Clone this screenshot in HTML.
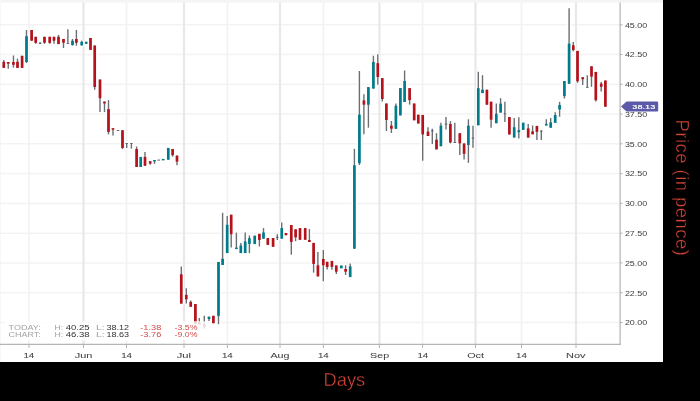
<!DOCTYPE html>
<html><head><meta charset="utf-8"><style>
html,body{margin:0;padding:0;width:700px;height:401px;overflow:hidden;background:#000;}
svg{will-change:transform}
</style></head><body>
<svg width="700" height="401" viewBox="0 0 700 401" style="position:absolute;left:0;top:0">
<rect x="0" y="0" width="700" height="401" fill="#000"/>
<rect x="0" y="0" width="663" height="362" fill="#fff"/>
<rect x="0" y="0" width="663" height="2.5" fill="#f4f4f4"/><rect x="0" y="0" width="1" height="362" fill="#f8f8f8"/>
<line x1="0" y1="24.8" x2="620" y2="24.8" stroke="#f3f3f3" stroke-width="1.5"/>
<line x1="0" y1="54.5" x2="620" y2="54.5" stroke="#f3f3f3" stroke-width="1.5"/>
<line x1="0" y1="84.3" x2="620" y2="84.3" stroke="#f3f3f3" stroke-width="1.5"/>
<line x1="0" y1="114.1" x2="620" y2="114.1" stroke="#f3f3f3" stroke-width="1.5"/>
<line x1="0" y1="143.8" x2="620" y2="143.8" stroke="#f3f3f3" stroke-width="1.5"/>
<line x1="0" y1="173.6" x2="620" y2="173.6" stroke="#f3f3f3" stroke-width="1.5"/>
<line x1="0" y1="203.4" x2="620" y2="203.4" stroke="#f3f3f3" stroke-width="1.5"/>
<line x1="0" y1="233.2" x2="620" y2="233.2" stroke="#f3f3f3" stroke-width="1.5"/>
<line x1="0" y1="262.9" x2="620" y2="262.9" stroke="#f3f3f3" stroke-width="1.5"/>
<line x1="0" y1="292.7" x2="620" y2="292.7" stroke="#f3f3f3" stroke-width="1.5"/>
<line x1="0" y1="322.5" x2="620" y2="322.5" stroke="#f3f3f3" stroke-width="1.5"/>
<line x1="29.0" y1="2.5" x2="29.0" y2="344" stroke="#f3f3f3" stroke-width="1.8"/>
<line x1="83.5" y1="2.5" x2="83.5" y2="344" stroke="#e8e8e8" stroke-width="2.2"/>
<line x1="126.5" y1="2.5" x2="126.5" y2="344" stroke="#f3f3f3" stroke-width="1.8"/>
<line x1="184.0" y1="2.5" x2="184.0" y2="344" stroke="#e8e8e8" stroke-width="2.2"/>
<line x1="227.4" y1="2.5" x2="227.4" y2="344" stroke="#f3f3f3" stroke-width="1.8"/>
<line x1="280.0" y1="2.5" x2="280.0" y2="344" stroke="#e8e8e8" stroke-width="2.2"/>
<line x1="323.4" y1="2.5" x2="323.4" y2="344" stroke="#f3f3f3" stroke-width="1.8"/>
<line x1="379.4" y1="2.5" x2="379.4" y2="344" stroke="#e8e8e8" stroke-width="2.2"/>
<line x1="422.6" y1="2.5" x2="422.6" y2="344" stroke="#f3f3f3" stroke-width="1.8"/>
<line x1="475.5" y1="2.5" x2="475.5" y2="344" stroke="#e8e8e8" stroke-width="2.2"/>
<line x1="521.5" y1="2.5" x2="521.5" y2="344" stroke="#f3f3f3" stroke-width="1.8"/>
<line x1="576.0" y1="2.5" x2="576.0" y2="344" stroke="#e8e8e8" stroke-width="2.2"/>
<line x1="0" y1="344.3" x2="620.6" y2="344.3" stroke="#b4b4b4" stroke-width="1.2"/>
<line x1="620.1" y1="2.5" x2="620.1" y2="344.9" stroke="#b4b4b4" stroke-width="1.2"/>
<line x1="29.0" y1="344" x2="29.0" y2="348" stroke="#b4b4b4" stroke-width="1"/>
<line x1="83.5" y1="344" x2="83.5" y2="348" stroke="#b4b4b4" stroke-width="1"/>
<line x1="126.5" y1="344" x2="126.5" y2="348" stroke="#b4b4b4" stroke-width="1"/>
<line x1="184.0" y1="344" x2="184.0" y2="348" stroke="#b4b4b4" stroke-width="1"/>
<line x1="227.4" y1="344" x2="227.4" y2="348" stroke="#b4b4b4" stroke-width="1"/>
<line x1="280.0" y1="344" x2="280.0" y2="348" stroke="#b4b4b4" stroke-width="1"/>
<line x1="323.4" y1="344" x2="323.4" y2="348" stroke="#b4b4b4" stroke-width="1"/>
<line x1="379.4" y1="344" x2="379.4" y2="348" stroke="#b4b4b4" stroke-width="1"/>
<line x1="422.6" y1="344" x2="422.6" y2="348" stroke="#b4b4b4" stroke-width="1"/>
<line x1="475.5" y1="344" x2="475.5" y2="348" stroke="#b4b4b4" stroke-width="1"/>
<line x1="521.5" y1="344" x2="521.5" y2="348" stroke="#b4b4b4" stroke-width="1"/>
<line x1="576.0" y1="344" x2="576.0" y2="348" stroke="#b4b4b4" stroke-width="1"/>
<line x1="620" y1="24.8" x2="622.6" y2="24.8" stroke="#b4b4b4" stroke-width="1"/>
<line x1="620" y1="54.5" x2="622.6" y2="54.5" stroke="#b4b4b4" stroke-width="1"/>
<line x1="620" y1="84.3" x2="622.6" y2="84.3" stroke="#b4b4b4" stroke-width="1"/>
<line x1="620" y1="114.1" x2="622.6" y2="114.1" stroke="#b4b4b4" stroke-width="1"/>
<line x1="620" y1="143.8" x2="622.6" y2="143.8" stroke="#b4b4b4" stroke-width="1"/>
<line x1="620" y1="173.6" x2="622.6" y2="173.6" stroke="#b4b4b4" stroke-width="1"/>
<line x1="620" y1="203.4" x2="622.6" y2="203.4" stroke="#b4b4b4" stroke-width="1"/>
<line x1="620" y1="233.2" x2="622.6" y2="233.2" stroke="#b4b4b4" stroke-width="1"/>
<line x1="620" y1="262.9" x2="622.6" y2="262.9" stroke="#b4b4b4" stroke-width="1"/>
<line x1="620" y1="292.7" x2="622.6" y2="292.7" stroke="#b4b4b4" stroke-width="1"/>
<line x1="620" y1="322.5" x2="622.6" y2="322.5" stroke="#b4b4b4" stroke-width="1"/>
<line x1="3.76" y1="60.0" x2="3.76" y2="67.9" stroke="#fff" stroke-width="4.0"/>
<rect x="1.11" y="60.8" width="5.300000000000001" height="8.1" fill="#fff"/>
<line x1="8.24" y1="62.0" x2="8.24" y2="68.7" stroke="#fff" stroke-width="4.0"/>
<rect x="5.59" y="61.0" width="5.300000000000001" height="3.7" fill="#fff"/>
<line x1="13.45" y1="55.5" x2="13.45" y2="67.6" stroke="#fff" stroke-width="4.0"/>
<rect x="10.80" y="61.0" width="5.300000000000001" height="4.8" fill="#fff"/>
<line x1="17.50" y1="58.6" x2="17.50" y2="67.9" stroke="#fff" stroke-width="4.0"/>
<rect x="14.85" y="60.8" width="5.300000000000001" height="8.1" fill="#fff"/>
<line x1="22.10" y1="55.8" x2="22.10" y2="67.9" stroke="#fff" stroke-width="4.0"/>
<rect x="19.45" y="54.8" width="5.300000000000001" height="14.1" fill="#fff"/>
<line x1="26.50" y1="30.0" x2="26.50" y2="63.1" stroke="#fff" stroke-width="4.0"/>
<rect x="23.85" y="35.2" width="5.300000000000001" height="27.8" fill="#fff"/>
<line x1="31.60" y1="30.0" x2="31.60" y2="40.7" stroke="#fff" stroke-width="4.0"/>
<rect x="28.95" y="29.0" width="5.300000000000001" height="12.7" fill="#fff"/>
<line x1="35.70" y1="36.8" x2="35.70" y2="43.8" stroke="#fff" stroke-width="4.0"/>
<rect x="33.05" y="35.8" width="5.300000000000001" height="8.1" fill="#fff"/>
<line x1="40.10" y1="42.0" x2="40.10" y2="44.0" stroke="#fff" stroke-width="4.0"/>
<rect x="37.45" y="42.0" width="5.300000000000001" height="3.0" fill="#fff"/>
<line x1="44.50" y1="36.8" x2="44.50" y2="43.8" stroke="#fff" stroke-width="4.0"/>
<rect x="41.85" y="35.8" width="5.300000000000001" height="7.9" fill="#fff"/>
<line x1="49.70" y1="36.8" x2="49.70" y2="43.8" stroke="#fff" stroke-width="4.0"/>
<rect x="47.05" y="35.8" width="5.300000000000001" height="8.1" fill="#fff"/>
<line x1="54.00" y1="36.8" x2="54.00" y2="43.8" stroke="#fff" stroke-width="4.0"/>
<rect x="51.35" y="35.8" width="5.300000000000001" height="5.9" fill="#fff"/>
<line x1="58.50" y1="34.9" x2="58.50" y2="44.1" stroke="#fff" stroke-width="4.0"/>
<rect x="55.85" y="35.8" width="5.300000000000001" height="9.3" fill="#fff"/>
<line x1="63.50" y1="39.0" x2="63.50" y2="48.0" stroke="#fff" stroke-width="4.0"/>
<rect x="60.85" y="38.0" width="5.300000000000001" height="5.7" fill="#fff"/>
<line x1="67.90" y1="29.3" x2="67.90" y2="43.6" stroke="#fff" stroke-width="4.0"/>
<rect x="65.25" y="42.0" width="5.300000000000001" height="3.0" fill="#fff"/>
<line x1="72.50" y1="39.0" x2="72.50" y2="45.7" stroke="#fff" stroke-width="4.0"/>
<rect x="69.85" y="39.7" width="5.300000000000001" height="6.3" fill="#fff"/>
<line x1="76.40" y1="30.0" x2="76.40" y2="45.7" stroke="#fff" stroke-width="4.0"/>
<rect x="73.75" y="38.0" width="5.300000000000001" height="5.7" fill="#fff"/>
<line x1="81.70" y1="40.7" x2="81.70" y2="45.4" stroke="#fff" stroke-width="4.0"/>
<rect x="79.05" y="40.8" width="5.300000000000001" height="5.6" fill="#fff"/>
<line x1="86.20" y1="41.8" x2="86.20" y2="43.8" stroke="#fff" stroke-width="4.0"/>
<rect x="83.55" y="40.8" width="5.300000000000001" height="4.0" fill="#fff"/>
<line x1="90.50" y1="38.0" x2="90.50" y2="49.9" stroke="#fff" stroke-width="4.0"/>
<rect x="87.85" y="37.0" width="5.300000000000001" height="13.9" fill="#fff"/>
<line x1="94.70" y1="45.5" x2="94.70" y2="89.7" stroke="#fff" stroke-width="4.0"/>
<rect x="92.05" y="44.5" width="5.300000000000001" height="43.5" fill="#fff"/>
<line x1="100.00" y1="79.5" x2="100.00" y2="112.1" stroke="#fff" stroke-width="4.0"/>
<rect x="97.35" y="78.5" width="5.300000000000001" height="20.7" fill="#fff"/>
<line x1="104.50" y1="101.6" x2="104.50" y2="112.1" stroke="#fff" stroke-width="4.0"/>
<rect x="101.85" y="100.6" width="5.300000000000001" height="3.8" fill="#fff"/>
<line x1="108.50" y1="100.1" x2="108.50" y2="134.4" stroke="#fff" stroke-width="4.0"/>
<rect x="105.85" y="108.1" width="5.300000000000001" height="24.8" fill="#fff"/>
<line x1="113.00" y1="128.2" x2="113.00" y2="135.5" stroke="#fff" stroke-width="4.0"/>
<rect x="110.35" y="127.2" width="5.300000000000001" height="3.5" fill="#fff"/>
<line x1="118.00" y1="130.1" x2="118.00" y2="130.7" stroke="#fff" stroke-width="4.0"/>
<rect x="115.35" y="129.1" width="5.300000000000001" height="3.0" fill="#fff"/>
<line x1="122.50" y1="130.2" x2="122.50" y2="149.0" stroke="#fff" stroke-width="4.0"/>
<rect x="119.85" y="129.2" width="5.300000000000001" height="19.7" fill="#fff"/>
<line x1="126.70" y1="143.2" x2="126.70" y2="147.9" stroke="#fff" stroke-width="4.0"/>
<rect x="124.05" y="142.2" width="5.300000000000001" height="3.0" fill="#fff"/>
<line x1="131.40" y1="143.2" x2="131.40" y2="148.6" stroke="#fff" stroke-width="4.0"/>
<rect x="128.75" y="142.2" width="5.300000000000001" height="3.0" fill="#fff"/>
<line x1="136.60" y1="146.5" x2="136.60" y2="167.0" stroke="#fff" stroke-width="4.0"/>
<rect x="133.95" y="148.0" width="5.300000000000001" height="20.0" fill="#fff"/>
<line x1="140.70" y1="156.9" x2="140.70" y2="167.0" stroke="#fff" stroke-width="4.0"/>
<rect x="138.05" y="155.9" width="5.300000000000001" height="12.1" fill="#fff"/>
<line x1="145.00" y1="152.1" x2="145.00" y2="165.8" stroke="#fff" stroke-width="4.0"/>
<rect x="142.35" y="155.9" width="5.300000000000001" height="10.9" fill="#fff"/>
<line x1="150.20" y1="161.2" x2="150.20" y2="164.8" stroke="#fff" stroke-width="4.0"/>
<rect x="147.55" y="160.2" width="5.300000000000001" height="4.4" fill="#fff"/>
<line x1="154.50" y1="160.0" x2="154.50" y2="163.9" stroke="#fff" stroke-width="4.0"/>
<rect x="151.85" y="159.0" width="5.300000000000001" height="3.4" fill="#fff"/>
<line x1="158.80" y1="159.7" x2="158.80" y2="160.3" stroke="#fff" stroke-width="4.0"/>
<rect x="156.15" y="158.7" width="5.300000000000001" height="3.0" fill="#fff"/>
<line x1="163.20" y1="158.9" x2="163.20" y2="160.3" stroke="#fff" stroke-width="4.0"/>
<rect x="160.55" y="157.9" width="5.300000000000001" height="3.4" fill="#fff"/>
<line x1="168.30" y1="147.9" x2="168.30" y2="159.7" stroke="#fff" stroke-width="4.0"/>
<rect x="165.65" y="146.9" width="5.300000000000001" height="13.8" fill="#fff"/>
<line x1="172.60" y1="149.0" x2="172.60" y2="156.7" stroke="#fff" stroke-width="4.0"/>
<rect x="169.95" y="148.0" width="5.300000000000001" height="8.2" fill="#fff"/>
<line x1="177.00" y1="155.6" x2="177.00" y2="165.3" stroke="#fff" stroke-width="4.0"/>
<rect x="174.35" y="154.6" width="5.300000000000001" height="8.0" fill="#fff"/>
<line x1="181.30" y1="266.6" x2="181.30" y2="303.6" stroke="#fff" stroke-width="4.0"/>
<rect x="178.65" y="273.3" width="5.300000000000001" height="31.3" fill="#fff"/>
<line x1="186.30" y1="288.3" x2="186.30" y2="303.6" stroke="#fff" stroke-width="4.0"/>
<rect x="183.65" y="293.9" width="5.300000000000001" height="6.4" fill="#fff"/>
<line x1="190.70" y1="300.5" x2="190.70" y2="306.8" stroke="#fff" stroke-width="4.0"/>
<rect x="188.05" y="300.9" width="5.300000000000001" height="6.9" fill="#fff"/>
<line x1="195.40" y1="304.0" x2="195.40" y2="323.8" stroke="#fff" stroke-width="4.0"/>
<rect x="192.75" y="303.0" width="5.300000000000001" height="21.8" fill="#fff"/>
<line x1="199.30" y1="318.0" x2="199.30" y2="324.4" stroke="#fff" stroke-width="4.0"/>
<rect x="196.65" y="321.6" width="5.300000000000001" height="3.8" fill="#fff"/>
<line x1="204.30" y1="315.8" x2="204.30" y2="328.5" stroke="#fff" stroke-width="4.0"/>
<rect x="201.65" y="323.8" width="5.300000000000001" height="3.6" fill="#fff"/>
<line x1="209.00" y1="316.7" x2="209.00" y2="321.0" stroke="#fff" stroke-width="4.0"/>
<rect x="206.35" y="315.7" width="5.300000000000001" height="4.3" fill="#fff"/>
<line x1="213.40" y1="315.8" x2="213.40" y2="323.2" stroke="#fff" stroke-width="4.0"/>
<rect x="210.75" y="314.8" width="5.300000000000001" height="9.4" fill="#fff"/>
<line x1="218.50" y1="262.0" x2="218.50" y2="324.2" stroke="#fff" stroke-width="4.0"/>
<rect x="215.85" y="261.0" width="5.300000000000001" height="55.8" fill="#fff"/>
<line x1="222.60" y1="212.8" x2="222.60" y2="265.0" stroke="#fff" stroke-width="4.0"/>
<rect x="219.95" y="257.8" width="5.300000000000001" height="8.2" fill="#fff"/>
<line x1="227.20" y1="216.0" x2="227.20" y2="253.1" stroke="#fff" stroke-width="4.0"/>
<rect x="224.55" y="223.8" width="5.300000000000001" height="30.3" fill="#fff"/>
<line x1="231.20" y1="214.7" x2="231.20" y2="247.5" stroke="#fff" stroke-width="4.0"/>
<rect x="228.55" y="213.7" width="5.300000000000001" height="21.5" fill="#fff"/>
<line x1="236.40" y1="232.6" x2="236.40" y2="249.1" stroke="#fff" stroke-width="4.0"/>
<rect x="233.75" y="246.6" width="5.300000000000001" height="3.5" fill="#fff"/>
<line x1="240.80" y1="243.1" x2="240.80" y2="253.1" stroke="#fff" stroke-width="4.0"/>
<rect x="238.15" y="244.5" width="5.300000000000001" height="9.6" fill="#fff"/>
<line x1="245.20" y1="232.6" x2="245.20" y2="253.1" stroke="#fff" stroke-width="4.0"/>
<rect x="242.55" y="240.5" width="5.300000000000001" height="13.6" fill="#fff"/>
<line x1="249.40" y1="235.5" x2="249.40" y2="253.1" stroke="#fff" stroke-width="4.0"/>
<rect x="246.75" y="237.2" width="5.300000000000001" height="7.7" fill="#fff"/>
<line x1="254.70" y1="235.7" x2="254.70" y2="244.1" stroke="#fff" stroke-width="4.0"/>
<rect x="252.05" y="234.7" width="5.300000000000001" height="10.4" fill="#fff"/>
<line x1="259.40" y1="233.8" x2="259.40" y2="246.5" stroke="#fff" stroke-width="4.0"/>
<rect x="256.75" y="232.8" width="5.300000000000001" height="8.1" fill="#fff"/>
<line x1="263.50" y1="228.1" x2="263.50" y2="238.7" stroke="#fff" stroke-width="4.0"/>
<rect x="260.85" y="231.5" width="5.300000000000001" height="8.2" fill="#fff"/>
<line x1="267.80" y1="238.0" x2="267.80" y2="245.0" stroke="#fff" stroke-width="4.0"/>
<rect x="265.15" y="237.0" width="5.300000000000001" height="8.9" fill="#fff"/>
<line x1="273.10" y1="238.0" x2="273.10" y2="246.8" stroke="#fff" stroke-width="4.0"/>
<rect x="270.45" y="237.0" width="5.300000000000001" height="10.8" fill="#fff"/>
<line x1="277.30" y1="234.3" x2="277.30" y2="239.9" stroke="#fff" stroke-width="4.0"/>
<rect x="274.65" y="235.9" width="5.300000000000001" height="3.0" fill="#fff"/>
<line x1="281.70" y1="222.5" x2="281.70" y2="238.7" stroke="#fff" stroke-width="4.0"/>
<rect x="279.05" y="227.1" width="5.300000000000001" height="12.6" fill="#fff"/>
<line x1="286.00" y1="233.0" x2="286.00" y2="235.2" stroke="#fff" stroke-width="4.0"/>
<rect x="283.35" y="232.0" width="5.300000000000001" height="4.2" fill="#fff"/>
<line x1="291.30" y1="225.0" x2="291.30" y2="254.7" stroke="#fff" stroke-width="4.0"/>
<rect x="288.65" y="224.0" width="5.300000000000001" height="18.9" fill="#fff"/>
<line x1="295.60" y1="229.3" x2="295.60" y2="241.2" stroke="#fff" stroke-width="4.0"/>
<rect x="292.95" y="228.3" width="5.300000000000001" height="10.0" fill="#fff"/>
<line x1="300.00" y1="228.1" x2="300.00" y2="239.8" stroke="#fff" stroke-width="4.0"/>
<rect x="297.35" y="227.1" width="5.300000000000001" height="13.7" fill="#fff"/>
<line x1="305.20" y1="228.1" x2="305.20" y2="239.8" stroke="#fff" stroke-width="4.0"/>
<rect x="302.55" y="227.1" width="5.300000000000001" height="13.7" fill="#fff"/>
<line x1="309.40" y1="229.0" x2="309.40" y2="242.0" stroke="#fff" stroke-width="4.0"/>
<rect x="306.75" y="239.0" width="5.300000000000001" height="4.0" fill="#fff"/>
<line x1="313.60" y1="242.9" x2="313.60" y2="272.6" stroke="#fff" stroke-width="4.0"/>
<rect x="310.95" y="241.9" width="5.300000000000001" height="23.0" fill="#fff"/>
<line x1="317.90" y1="252.0" x2="317.90" y2="276.4" stroke="#fff" stroke-width="4.0"/>
<rect x="315.25" y="264.3" width="5.300000000000001" height="13.1" fill="#fff"/>
<line x1="323.30" y1="249.9" x2="323.30" y2="281.3" stroke="#fff" stroke-width="4.0"/>
<rect x="320.65" y="258.0" width="5.300000000000001" height="8.3" fill="#fff"/>
<line x1="327.20" y1="261.8" x2="327.20" y2="269.4" stroke="#fff" stroke-width="4.0"/>
<rect x="324.55" y="260.8" width="5.300000000000001" height="7.2" fill="#fff"/>
<line x1="331.90" y1="260.9" x2="331.90" y2="269.8" stroke="#fff" stroke-width="4.0"/>
<rect x="329.25" y="259.9" width="5.300000000000001" height="7.9" fill="#fff"/>
<line x1="336.30" y1="265.5" x2="336.30" y2="274.0" stroke="#fff" stroke-width="4.0"/>
<rect x="333.65" y="264.5" width="5.300000000000001" height="8.2" fill="#fff"/>
<line x1="341.30" y1="265.6" x2="341.30" y2="268.3" stroke="#fff" stroke-width="4.0"/>
<rect x="338.65" y="264.6" width="5.300000000000001" height="4.7" fill="#fff"/>
<line x1="345.60" y1="265.3" x2="345.60" y2="275.0" stroke="#fff" stroke-width="4.0"/>
<rect x="342.95" y="268.0" width="5.300000000000001" height="4.7" fill="#fff"/>
<line x1="350.20" y1="263.4" x2="350.20" y2="277.1" stroke="#fff" stroke-width="4.0"/>
<rect x="347.55" y="265.4" width="5.300000000000001" height="12.7" fill="#fff"/>
<line x1="354.40" y1="148.8" x2="354.40" y2="248.7" stroke="#fff" stroke-width="4.0"/>
<rect x="351.75" y="164.3" width="5.300000000000001" height="85.4" fill="#fff"/>
<line x1="359.40" y1="71.0" x2="359.40" y2="165.0" stroke="#fff" stroke-width="4.0"/>
<rect x="356.75" y="113.6" width="5.300000000000001" height="50.6" fill="#fff"/>
<line x1="363.90" y1="94.2" x2="363.90" y2="134.3" stroke="#fff" stroke-width="4.0"/>
<rect x="361.25" y="99.4" width="5.300000000000001" height="6.3" fill="#fff"/>
<line x1="368.40" y1="87.1" x2="368.40" y2="127.7" stroke="#fff" stroke-width="4.0"/>
<rect x="365.75" y="86.1" width="5.300000000000001" height="19.6" fill="#fff"/>
<line x1="373.40" y1="55.7" x2="373.40" y2="88.6" stroke="#fff" stroke-width="4.0"/>
<rect x="370.75" y="61.0" width="5.300000000000001" height="28.6" fill="#fff"/>
<line x1="377.80" y1="54.2" x2="377.80" y2="84.7" stroke="#fff" stroke-width="4.0"/>
<rect x="375.15" y="62.2" width="5.300000000000001" height="15.8" fill="#fff"/>
<line x1="382.30" y1="78.1" x2="382.30" y2="101.6" stroke="#fff" stroke-width="4.0"/>
<rect x="379.65" y="77.1" width="5.300000000000001" height="22.9" fill="#fff"/>
<line x1="386.40" y1="103.5" x2="386.40" y2="131.0" stroke="#fff" stroke-width="4.0"/>
<rect x="383.75" y="102.5" width="5.300000000000001" height="18.5" fill="#fff"/>
<line x1="391.40" y1="121.0" x2="391.40" y2="133.0" stroke="#fff" stroke-width="4.0"/>
<rect x="388.75" y="124.7" width="5.300000000000001" height="5.0" fill="#fff"/>
<line x1="395.90" y1="103.5" x2="395.90" y2="128.8" stroke="#fff" stroke-width="4.0"/>
<rect x="393.25" y="104.7" width="5.300000000000001" height="25.1" fill="#fff"/>
<line x1="400.40" y1="88.1" x2="400.40" y2="115.4" stroke="#fff" stroke-width="4.0"/>
<rect x="397.75" y="87.1" width="5.300000000000001" height="29.3" fill="#fff"/>
<line x1="404.60" y1="70.5" x2="404.60" y2="102.0" stroke="#fff" stroke-width="4.0"/>
<rect x="401.95" y="80.0" width="5.300000000000001" height="23.0" fill="#fff"/>
<line x1="409.60" y1="88.1" x2="409.60" y2="104.6" stroke="#fff" stroke-width="4.0"/>
<rect x="406.95" y="87.1" width="5.300000000000001" height="14.0" fill="#fff"/>
<line x1="414.20" y1="103.5" x2="414.20" y2="120.3" stroke="#fff" stroke-width="4.0"/>
<rect x="411.55" y="102.5" width="5.300000000000001" height="18.8" fill="#fff"/>
<line x1="418.30" y1="114.7" x2="418.30" y2="123.5" stroke="#fff" stroke-width="4.0"/>
<rect x="415.65" y="113.7" width="5.300000000000001" height="10.8" fill="#fff"/>
<line x1="422.70" y1="114.9" x2="422.70" y2="160.8" stroke="#fff" stroke-width="4.0"/>
<rect x="420.05" y="113.9" width="5.300000000000001" height="21.5" fill="#fff"/>
<line x1="428.00" y1="127.2" x2="428.00" y2="136.0" stroke="#fff" stroke-width="4.0"/>
<rect x="425.35" y="130.6" width="5.300000000000001" height="6.4" fill="#fff"/>
<line x1="432.30" y1="128.8" x2="432.30" y2="144.1" stroke="#fff" stroke-width="4.0"/>
<rect x="429.65" y="129.5" width="5.300000000000001" height="3.0" fill="#fff"/>
<line x1="436.50" y1="133.2" x2="436.50" y2="149.4" stroke="#fff" stroke-width="4.0"/>
<rect x="433.85" y="138.7" width="5.300000000000001" height="11.7" fill="#fff"/>
<line x1="440.90" y1="122.7" x2="440.90" y2="146.2" stroke="#fff" stroke-width="4.0"/>
<rect x="438.25" y="124.6" width="5.300000000000001" height="22.6" fill="#fff"/>
<line x1="446.00" y1="117.0" x2="446.00" y2="129.5" stroke="#fff" stroke-width="4.0"/>
<rect x="443.35" y="122.7" width="5.300000000000001" height="3.0" fill="#fff"/>
<line x1="450.40" y1="121.1" x2="450.40" y2="143.4" stroke="#fff" stroke-width="4.0"/>
<rect x="447.75" y="123.0" width="5.300000000000001" height="20.5" fill="#fff"/>
<line x1="454.80" y1="122.7" x2="454.80" y2="142.9" stroke="#fff" stroke-width="4.0"/>
<rect x="452.15" y="141.2" width="5.300000000000001" height="3.0" fill="#fff"/>
<line x1="459.80" y1="133.2" x2="459.80" y2="155.1" stroke="#fff" stroke-width="4.0"/>
<rect x="457.15" y="132.2" width="5.300000000000001" height="12.2" fill="#fff"/>
<line x1="464.10" y1="143.4" x2="464.10" y2="159.6" stroke="#fff" stroke-width="4.0"/>
<rect x="461.45" y="142.4" width="5.300000000000001" height="12.4" fill="#fff"/>
<line x1="468.40" y1="119.3" x2="468.40" y2="162.8" stroke="#fff" stroke-width="4.0"/>
<rect x="465.75" y="124.7" width="5.300000000000001" height="21.3" fill="#fff"/>
<line x1="473.00" y1="125.7" x2="473.00" y2="147.7" stroke="#fff" stroke-width="4.0"/>
<rect x="470.35" y="136.7" width="5.300000000000001" height="3.0" fill="#fff"/>
<line x1="478.30" y1="71.7" x2="478.30" y2="125.3" stroke="#fff" stroke-width="4.0"/>
<rect x="475.65" y="87.2" width="5.300000000000001" height="39.1" fill="#fff"/>
<line x1="482.50" y1="75.2" x2="482.50" y2="93.1" stroke="#fff" stroke-width="4.0"/>
<rect x="479.85" y="88.7" width="5.300000000000001" height="5.4" fill="#fff"/>
<line x1="486.90" y1="89.7" x2="486.90" y2="104.7" stroke="#fff" stroke-width="4.0"/>
<rect x="484.25" y="88.7" width="5.300000000000001" height="17.0" fill="#fff"/>
<line x1="491.10" y1="101.7" x2="491.10" y2="127.8" stroke="#fff" stroke-width="4.0"/>
<rect x="488.45" y="100.7" width="5.300000000000001" height="20.0" fill="#fff"/>
<line x1="496.30" y1="103.6" x2="496.30" y2="123.2" stroke="#fff" stroke-width="4.0"/>
<rect x="493.65" y="112.7" width="5.300000000000001" height="11.5" fill="#fff"/>
<line x1="500.60" y1="98.2" x2="500.60" y2="112.6" stroke="#fff" stroke-width="4.0"/>
<rect x="497.95" y="102.6" width="5.300000000000001" height="11.0" fill="#fff"/>
<line x1="504.90" y1="101.8" x2="504.90" y2="122.0" stroke="#fff" stroke-width="4.0"/>
<rect x="502.25" y="112.4" width="5.300000000000001" height="3.0" fill="#fff"/>
<line x1="509.40" y1="117.0" x2="509.40" y2="134.5" stroke="#fff" stroke-width="4.0"/>
<rect x="506.75" y="116.0" width="5.300000000000001" height="19.5" fill="#fff"/>
<line x1="514.20" y1="118.0" x2="514.20" y2="137.5" stroke="#fff" stroke-width="4.0"/>
<rect x="511.55" y="126.2" width="5.300000000000001" height="12.3" fill="#fff"/>
<line x1="518.80" y1="117.2" x2="518.80" y2="138.6" stroke="#fff" stroke-width="4.0"/>
<rect x="516.15" y="129.2" width="5.300000000000001" height="4.0" fill="#fff"/>
<line x1="523.20" y1="122.7" x2="523.20" y2="129.9" stroke="#fff" stroke-width="4.0"/>
<rect x="520.55" y="121.7" width="5.300000000000001" height="9.2" fill="#fff"/>
<line x1="528.20" y1="123.9" x2="528.20" y2="137.6" stroke="#fff" stroke-width="4.0"/>
<rect x="525.55" y="127.4" width="5.300000000000001" height="11.2" fill="#fff"/>
<line x1="532.60" y1="125.5" x2="532.60" y2="134.3" stroke="#fff" stroke-width="4.0"/>
<rect x="529.95" y="130.4" width="5.300000000000001" height="4.9" fill="#fff"/>
<line x1="536.90" y1="125.9" x2="536.90" y2="139.9" stroke="#fff" stroke-width="4.0"/>
<rect x="534.25" y="124.9" width="5.300000000000001" height="7.9" fill="#fff"/>
<line x1="541.30" y1="130.2" x2="541.30" y2="140.1" stroke="#fff" stroke-width="4.0"/>
<rect x="538.65" y="129.7" width="5.300000000000001" height="3.0" fill="#fff"/>
<line x1="546.30" y1="119.3" x2="546.30" y2="125.5" stroke="#fff" stroke-width="4.0"/>
<rect x="543.65" y="122.9" width="5.300000000000001" height="3.6" fill="#fff"/>
<line x1="550.70" y1="118.1" x2="550.70" y2="127.7" stroke="#fff" stroke-width="4.0"/>
<rect x="548.05" y="121.4" width="5.300000000000001" height="7.3" fill="#fff"/>
<line x1="555.20" y1="112.2" x2="555.20" y2="122.8" stroke="#fff" stroke-width="4.0"/>
<rect x="552.55" y="114.0" width="5.300000000000001" height="9.8" fill="#fff"/>
<line x1="559.60" y1="101.8" x2="559.60" y2="116.7" stroke="#fff" stroke-width="4.0"/>
<rect x="556.95" y="104.0" width="5.300000000000001" height="6.4" fill="#fff"/>
<line x1="564.40" y1="81.0" x2="564.40" y2="98.5" stroke="#fff" stroke-width="4.0"/>
<rect x="561.75" y="80.0" width="5.300000000000001" height="17.1" fill="#fff"/>
<line x1="569.10" y1="8.2" x2="569.10" y2="83.8" stroke="#fff" stroke-width="4.0"/>
<rect x="566.45" y="42.6" width="5.300000000000001" height="42.2" fill="#fff"/>
<line x1="573.30" y1="41.9" x2="573.30" y2="51.2" stroke="#fff" stroke-width="4.0"/>
<rect x="570.65" y="44.3" width="5.300000000000001" height="6.7" fill="#fff"/>
<line x1="577.50" y1="50.9" x2="577.50" y2="82.8" stroke="#fff" stroke-width="4.0"/>
<rect x="574.85" y="49.9" width="5.300000000000001" height="32.4" fill="#fff"/>
<line x1="582.70" y1="77.2" x2="582.70" y2="85.0" stroke="#fff" stroke-width="4.0"/>
<rect x="580.05" y="76.2" width="5.300000000000001" height="4.0" fill="#fff"/>
<line x1="587.30" y1="75.2" x2="587.30" y2="87.5" stroke="#fff" stroke-width="4.0"/>
<rect x="584.65" y="85.9" width="5.300000000000001" height="3.0" fill="#fff"/>
<line x1="591.50" y1="66.3" x2="591.50" y2="86.8" stroke="#fff" stroke-width="4.0"/>
<rect x="588.85" y="65.3" width="5.300000000000001" height="12.3" fill="#fff"/>
<line x1="595.80" y1="71.9" x2="595.80" y2="101.4" stroke="#fff" stroke-width="4.0"/>
<rect x="593.15" y="70.9" width="5.300000000000001" height="30.3" fill="#fff"/>
<line x1="601.20" y1="81.9" x2="601.20" y2="91.5" stroke="#fff" stroke-width="4.0"/>
<rect x="598.55" y="82.6" width="5.300000000000001" height="5.2" fill="#fff"/>
<line x1="605.40" y1="80.5" x2="605.40" y2="106.7" stroke="#fff" stroke-width="4.0"/>
<rect x="602.75" y="79.5" width="5.300000000000001" height="28.2" fill="#fff"/>
<line x1="3.76" y1="60.0" x2="3.76" y2="67.9" stroke="#6a6f74" stroke-width="1.4"/>
<rect x="2.41" y="61.8" width="2.7" height="6.1" fill="#b5121b"/>
<line x1="8.24" y1="62.0" x2="8.24" y2="68.7" stroke="#6a6f74" stroke-width="1.4"/>
<rect x="6.89" y="62.0" width="2.7" height="1.7" fill="#b5121b"/>
<line x1="13.45" y1="55.5" x2="13.45" y2="67.6" stroke="#6a6f74" stroke-width="1.4"/>
<rect x="12.10" y="62.0" width="2.7" height="2.8" fill="#b5121b"/>
<line x1="17.50" y1="58.6" x2="17.50" y2="67.9" stroke="#6a6f74" stroke-width="1.4"/>
<rect x="16.15" y="61.8" width="2.7" height="6.1" fill="#b5121b"/>
<line x1="22.10" y1="55.8" x2="22.10" y2="67.9" stroke="#6a6f74" stroke-width="1.4"/>
<rect x="20.75" y="55.8" width="2.7" height="12.1" fill="#b5121b"/>
<line x1="26.50" y1="30.0" x2="26.50" y2="63.1" stroke="#6a6f74" stroke-width="1.4"/>
<rect x="25.15" y="36.2" width="2.7" height="25.8" fill="#007b8a"/>
<line x1="31.60" y1="30.0" x2="31.60" y2="40.7" stroke="#6a6f74" stroke-width="1.4"/>
<rect x="30.25" y="30.0" width="2.7" height="10.7" fill="#b5121b"/>
<line x1="35.70" y1="36.8" x2="35.70" y2="43.8" stroke="#6a6f74" stroke-width="1.4"/>
<rect x="34.35" y="36.8" width="2.7" height="6.1" fill="#b5121b"/>
<line x1="40.10" y1="42.0" x2="40.10" y2="44.0" stroke="#6a6f74" stroke-width="1.4"/>
<rect x="38.75" y="43.0" width="2.7" height="0.8" fill="#555a60"/>
<line x1="44.50" y1="36.8" x2="44.50" y2="43.8" stroke="#6a6f74" stroke-width="1.4"/>
<rect x="43.15" y="36.8" width="2.7" height="5.9" fill="#b5121b"/>
<line x1="49.70" y1="36.8" x2="49.70" y2="43.8" stroke="#6a6f74" stroke-width="1.4"/>
<rect x="48.35" y="36.8" width="2.7" height="6.1" fill="#b5121b"/>
<line x1="54.00" y1="36.8" x2="54.00" y2="43.8" stroke="#6a6f74" stroke-width="1.4"/>
<rect x="52.65" y="36.8" width="2.7" height="3.9" fill="#b5121b"/>
<line x1="58.50" y1="34.9" x2="58.50" y2="44.1" stroke="#6a6f74" stroke-width="1.4"/>
<rect x="57.15" y="36.8" width="2.7" height="7.3" fill="#b5121b"/>
<line x1="63.50" y1="39.0" x2="63.50" y2="48.0" stroke="#6a6f74" stroke-width="1.4"/>
<rect x="62.15" y="39.0" width="2.7" height="3.7" fill="#b5121b"/>
<line x1="67.90" y1="29.3" x2="67.90" y2="43.6" stroke="#6a6f74" stroke-width="1.4"/>
<rect x="66.55" y="43.0" width="2.7" height="0.8" fill="#555a60"/>
<line x1="72.50" y1="39.0" x2="72.50" y2="45.7" stroke="#6a6f74" stroke-width="1.4"/>
<rect x="71.15" y="40.7" width="2.7" height="4.3" fill="#007b8a"/>
<line x1="76.40" y1="30.0" x2="76.40" y2="45.7" stroke="#6a6f74" stroke-width="1.4"/>
<rect x="75.05" y="39.0" width="2.7" height="3.7" fill="#b5121b"/>
<line x1="81.70" y1="40.7" x2="81.70" y2="45.4" stroke="#6a6f74" stroke-width="1.4"/>
<rect x="80.35" y="41.8" width="2.7" height="3.6" fill="#007b8a"/>
<line x1="86.20" y1="41.8" x2="86.20" y2="43.8" stroke="#6a6f74" stroke-width="1.4"/>
<rect x="84.85" y="41.8" width="2.7" height="2.0" fill="#007b8a"/>
<line x1="90.50" y1="38.0" x2="90.50" y2="49.9" stroke="#6a6f74" stroke-width="1.4"/>
<rect x="89.15" y="38.0" width="2.7" height="11.9" fill="#b5121b"/>
<line x1="94.70" y1="45.5" x2="94.70" y2="89.7" stroke="#6a6f74" stroke-width="1.4"/>
<rect x="93.35" y="45.5" width="2.7" height="41.5" fill="#b5121b"/>
<line x1="100.00" y1="79.5" x2="100.00" y2="112.1" stroke="#6a6f74" stroke-width="1.4"/>
<rect x="98.65" y="79.5" width="2.7" height="18.7" fill="#b5121b"/>
<line x1="104.50" y1="101.6" x2="104.50" y2="112.1" stroke="#6a6f74" stroke-width="1.4"/>
<rect x="103.15" y="101.6" width="2.7" height="1.8" fill="#b5121b"/>
<line x1="108.50" y1="100.1" x2="108.50" y2="134.4" stroke="#6a6f74" stroke-width="1.4"/>
<rect x="107.15" y="109.1" width="2.7" height="22.8" fill="#b5121b"/>
<line x1="113.00" y1="128.2" x2="113.00" y2="135.5" stroke="#6a6f74" stroke-width="1.4"/>
<rect x="111.65" y="128.2" width="2.7" height="1.5" fill="#b5121b"/>
<line x1="118.00" y1="130.1" x2="118.00" y2="130.7" stroke="#6a6f74" stroke-width="1.4"/>
<rect x="116.65" y="130.1" width="2.7" height="0.8" fill="#555a60"/>
<line x1="122.50" y1="130.2" x2="122.50" y2="149.0" stroke="#6a6f74" stroke-width="1.4"/>
<rect x="121.15" y="130.2" width="2.7" height="17.7" fill="#b5121b"/>
<line x1="126.70" y1="143.2" x2="126.70" y2="147.9" stroke="#6a6f74" stroke-width="1.4"/>
<rect x="125.35" y="143.2" width="2.7" height="0.8" fill="#555a60"/>
<line x1="131.40" y1="143.2" x2="131.40" y2="148.6" stroke="#6a6f74" stroke-width="1.4"/>
<rect x="130.05" y="143.2" width="2.7" height="0.8" fill="#555a60"/>
<line x1="136.60" y1="146.5" x2="136.60" y2="167.0" stroke="#6a6f74" stroke-width="1.4"/>
<rect x="135.25" y="149.0" width="2.7" height="18.0" fill="#b5121b"/>
<line x1="140.70" y1="156.9" x2="140.70" y2="167.0" stroke="#6a6f74" stroke-width="1.4"/>
<rect x="139.35" y="156.9" width="2.7" height="10.1" fill="#007b8a"/>
<line x1="145.00" y1="152.1" x2="145.00" y2="165.8" stroke="#6a6f74" stroke-width="1.4"/>
<rect x="143.65" y="156.9" width="2.7" height="8.9" fill="#b5121b"/>
<line x1="150.20" y1="161.2" x2="150.20" y2="164.8" stroke="#6a6f74" stroke-width="1.4"/>
<rect x="148.85" y="161.2" width="2.7" height="2.4" fill="#b5121b"/>
<line x1="154.50" y1="160.0" x2="154.50" y2="163.9" stroke="#6a6f74" stroke-width="1.4"/>
<rect x="153.15" y="160.0" width="2.7" height="1.4" fill="#007b8a"/>
<line x1="158.80" y1="159.7" x2="158.80" y2="160.3" stroke="#6a6f74" stroke-width="1.4"/>
<rect x="157.45" y="159.7" width="2.7" height="0.8" fill="#555a60"/>
<line x1="163.20" y1="158.9" x2="163.20" y2="160.3" stroke="#6a6f74" stroke-width="1.4"/>
<rect x="161.85" y="158.9" width="2.7" height="1.4" fill="#007b8a"/>
<line x1="168.30" y1="147.9" x2="168.30" y2="159.7" stroke="#6a6f74" stroke-width="1.4"/>
<rect x="166.95" y="147.9" width="2.7" height="11.8" fill="#007b8a"/>
<line x1="172.60" y1="149.0" x2="172.60" y2="156.7" stroke="#6a6f74" stroke-width="1.4"/>
<rect x="171.25" y="149.0" width="2.7" height="6.2" fill="#b5121b"/>
<line x1="177.00" y1="155.6" x2="177.00" y2="165.3" stroke="#6a6f74" stroke-width="1.4"/>
<rect x="175.65" y="155.6" width="2.7" height="6.0" fill="#b5121b"/>
<line x1="181.30" y1="266.6" x2="181.30" y2="303.6" stroke="#6a6f74" stroke-width="1.4"/>
<rect x="179.95" y="274.3" width="2.7" height="29.3" fill="#b5121b"/>
<line x1="186.30" y1="288.3" x2="186.30" y2="303.6" stroke="#6a6f74" stroke-width="1.4"/>
<rect x="184.95" y="294.9" width="2.7" height="4.4" fill="#b5121b"/>
<line x1="190.70" y1="300.5" x2="190.70" y2="306.8" stroke="#6a6f74" stroke-width="1.4"/>
<rect x="189.35" y="301.9" width="2.7" height="4.9" fill="#b5121b"/>
<line x1="195.40" y1="304.0" x2="195.40" y2="323.8" stroke="#6a6f74" stroke-width="1.4"/>
<rect x="194.05" y="304.0" width="2.7" height="19.8" fill="#b5121b"/>
<line x1="199.30" y1="318.0" x2="199.30" y2="324.4" stroke="#6a6f74" stroke-width="1.4"/>
<rect x="197.95" y="322.6" width="2.7" height="1.8" fill="#b5121b"/>
<line x1="204.30" y1="315.8" x2="204.30" y2="328.5" stroke="#6a6f74" stroke-width="1.4"/>
<rect x="202.95" y="324.8" width="2.7" height="1.6" fill="#b5121b"/>
<line x1="209.00" y1="316.7" x2="209.00" y2="321.0" stroke="#6a6f74" stroke-width="1.4"/>
<rect x="207.65" y="316.7" width="2.7" height="2.3" fill="#007b8a"/>
<line x1="213.40" y1="315.8" x2="213.40" y2="323.2" stroke="#6a6f74" stroke-width="1.4"/>
<rect x="212.05" y="315.8" width="2.7" height="7.4" fill="#b5121b"/>
<line x1="218.50" y1="262.0" x2="218.50" y2="324.2" stroke="#6a6f74" stroke-width="1.4"/>
<rect x="217.15" y="262.0" width="2.7" height="53.8" fill="#007b8a"/>
<line x1="222.60" y1="212.8" x2="222.60" y2="265.0" stroke="#6a6f74" stroke-width="1.4"/>
<rect x="221.25" y="258.8" width="2.7" height="6.2" fill="#007b8a"/>
<line x1="227.20" y1="216.0" x2="227.20" y2="253.1" stroke="#6a6f74" stroke-width="1.4"/>
<rect x="225.85" y="224.8" width="2.7" height="28.3" fill="#007b8a"/>
<line x1="231.20" y1="214.7" x2="231.20" y2="247.5" stroke="#6a6f74" stroke-width="1.4"/>
<rect x="229.85" y="214.7" width="2.7" height="19.5" fill="#b5121b"/>
<line x1="236.40" y1="232.6" x2="236.40" y2="249.1" stroke="#6a6f74" stroke-width="1.4"/>
<rect x="235.05" y="247.6" width="2.7" height="1.5" fill="#007b8a"/>
<line x1="240.80" y1="243.1" x2="240.80" y2="253.1" stroke="#6a6f74" stroke-width="1.4"/>
<rect x="239.45" y="245.5" width="2.7" height="7.6" fill="#007b8a"/>
<line x1="245.20" y1="232.6" x2="245.20" y2="253.1" stroke="#6a6f74" stroke-width="1.4"/>
<rect x="243.85" y="241.5" width="2.7" height="11.6" fill="#007b8a"/>
<line x1="249.40" y1="235.5" x2="249.40" y2="253.1" stroke="#6a6f74" stroke-width="1.4"/>
<rect x="248.05" y="238.2" width="2.7" height="5.7" fill="#007b8a"/>
<line x1="254.70" y1="235.7" x2="254.70" y2="244.1" stroke="#6a6f74" stroke-width="1.4"/>
<rect x="253.35" y="235.7" width="2.7" height="8.4" fill="#007b8a"/>
<line x1="259.40" y1="233.8" x2="259.40" y2="246.5" stroke="#6a6f74" stroke-width="1.4"/>
<rect x="258.05" y="233.8" width="2.7" height="6.1" fill="#b5121b"/>
<line x1="263.50" y1="228.1" x2="263.50" y2="238.7" stroke="#6a6f74" stroke-width="1.4"/>
<rect x="262.15" y="232.5" width="2.7" height="6.2" fill="#007b8a"/>
<line x1="267.80" y1="238.0" x2="267.80" y2="245.0" stroke="#6a6f74" stroke-width="1.4"/>
<rect x="266.45" y="238.0" width="2.7" height="6.9" fill="#b5121b"/>
<line x1="273.10" y1="238.0" x2="273.10" y2="246.8" stroke="#6a6f74" stroke-width="1.4"/>
<rect x="271.75" y="238.0" width="2.7" height="8.8" fill="#b5121b"/>
<line x1="277.30" y1="234.3" x2="277.30" y2="239.9" stroke="#6a6f74" stroke-width="1.4"/>
<rect x="275.95" y="236.9" width="2.7" height="0.8" fill="#555a60"/>
<line x1="281.70" y1="222.5" x2="281.70" y2="238.7" stroke="#6a6f74" stroke-width="1.4"/>
<rect x="280.35" y="228.1" width="2.7" height="10.6" fill="#007b8a"/>
<line x1="286.00" y1="233.0" x2="286.00" y2="235.2" stroke="#6a6f74" stroke-width="1.4"/>
<rect x="284.65" y="233.0" width="2.7" height="2.2" fill="#b5121b"/>
<line x1="291.30" y1="225.0" x2="291.30" y2="254.7" stroke="#6a6f74" stroke-width="1.4"/>
<rect x="289.95" y="225.0" width="2.7" height="16.9" fill="#b5121b"/>
<line x1="295.60" y1="229.3" x2="295.60" y2="241.2" stroke="#6a6f74" stroke-width="1.4"/>
<rect x="294.25" y="229.3" width="2.7" height="8.0" fill="#b5121b"/>
<line x1="300.00" y1="228.1" x2="300.00" y2="239.8" stroke="#6a6f74" stroke-width="1.4"/>
<rect x="298.65" y="228.1" width="2.7" height="11.7" fill="#b5121b"/>
<line x1="305.20" y1="228.1" x2="305.20" y2="239.8" stroke="#6a6f74" stroke-width="1.4"/>
<rect x="303.85" y="228.1" width="2.7" height="11.7" fill="#b5121b"/>
<line x1="309.40" y1="229.0" x2="309.40" y2="242.0" stroke="#6a6f74" stroke-width="1.4"/>
<rect x="308.05" y="240.0" width="2.7" height="2.0" fill="#b5121b"/>
<line x1="313.60" y1="242.9" x2="313.60" y2="272.6" stroke="#6a6f74" stroke-width="1.4"/>
<rect x="312.25" y="242.9" width="2.7" height="21.0" fill="#b5121b"/>
<line x1="317.90" y1="252.0" x2="317.90" y2="276.4" stroke="#6a6f74" stroke-width="1.4"/>
<rect x="316.55" y="265.3" width="2.7" height="11.1" fill="#b5121b"/>
<line x1="323.30" y1="249.9" x2="323.30" y2="281.3" stroke="#6a6f74" stroke-width="1.4"/>
<rect x="321.95" y="259.0" width="2.7" height="6.3" fill="#b5121b"/>
<line x1="327.20" y1="261.8" x2="327.20" y2="269.4" stroke="#6a6f74" stroke-width="1.4"/>
<rect x="325.85" y="261.8" width="2.7" height="5.2" fill="#b5121b"/>
<line x1="331.90" y1="260.9" x2="331.90" y2="269.8" stroke="#6a6f74" stroke-width="1.4"/>
<rect x="330.55" y="260.9" width="2.7" height="5.9" fill="#b5121b"/>
<line x1="336.30" y1="265.5" x2="336.30" y2="274.0" stroke="#6a6f74" stroke-width="1.4"/>
<rect x="334.95" y="265.5" width="2.7" height="6.2" fill="#b5121b"/>
<line x1="341.30" y1="265.6" x2="341.30" y2="268.3" stroke="#6a6f74" stroke-width="1.4"/>
<rect x="339.95" y="265.6" width="2.7" height="2.7" fill="#007b8a"/>
<line x1="345.60" y1="265.3" x2="345.60" y2="275.0" stroke="#6a6f74" stroke-width="1.4"/>
<rect x="344.25" y="269.0" width="2.7" height="2.7" fill="#b5121b"/>
<line x1="350.20" y1="263.4" x2="350.20" y2="277.1" stroke="#6a6f74" stroke-width="1.4"/>
<rect x="348.85" y="266.4" width="2.7" height="10.7" fill="#007b8a"/>
<line x1="354.40" y1="148.8" x2="354.40" y2="248.7" stroke="#6a6f74" stroke-width="1.4"/>
<rect x="353.05" y="165.3" width="2.7" height="83.4" fill="#007b8a"/>
<line x1="359.40" y1="71.0" x2="359.40" y2="165.0" stroke="#6a6f74" stroke-width="1.4"/>
<rect x="358.05" y="114.6" width="2.7" height="48.6" fill="#007b8a"/>
<line x1="363.90" y1="94.2" x2="363.90" y2="134.3" stroke="#6a6f74" stroke-width="1.4"/>
<rect x="362.55" y="100.4" width="2.7" height="4.3" fill="#b5121b"/>
<line x1="368.40" y1="87.1" x2="368.40" y2="127.7" stroke="#6a6f74" stroke-width="1.4"/>
<rect x="367.05" y="87.1" width="2.7" height="17.6" fill="#007b8a"/>
<line x1="373.40" y1="55.7" x2="373.40" y2="88.6" stroke="#6a6f74" stroke-width="1.4"/>
<rect x="372.05" y="62.0" width="2.7" height="26.6" fill="#007b8a"/>
<line x1="377.80" y1="54.2" x2="377.80" y2="84.7" stroke="#6a6f74" stroke-width="1.4"/>
<rect x="376.45" y="63.2" width="2.7" height="13.8" fill="#b5121b"/>
<line x1="382.30" y1="78.1" x2="382.30" y2="101.6" stroke="#6a6f74" stroke-width="1.4"/>
<rect x="380.95" y="78.1" width="2.7" height="20.9" fill="#b5121b"/>
<line x1="386.40" y1="103.5" x2="386.40" y2="131.0" stroke="#6a6f74" stroke-width="1.4"/>
<rect x="385.05" y="103.5" width="2.7" height="16.5" fill="#b5121b"/>
<line x1="391.40" y1="121.0" x2="391.40" y2="133.0" stroke="#6a6f74" stroke-width="1.4"/>
<rect x="390.05" y="125.7" width="2.7" height="3.0" fill="#b5121b"/>
<line x1="395.90" y1="103.5" x2="395.90" y2="128.8" stroke="#6a6f74" stroke-width="1.4"/>
<rect x="394.55" y="105.7" width="2.7" height="23.1" fill="#007b8a"/>
<line x1="400.40" y1="88.1" x2="400.40" y2="115.4" stroke="#6a6f74" stroke-width="1.4"/>
<rect x="399.05" y="88.1" width="2.7" height="27.3" fill="#007b8a"/>
<line x1="404.60" y1="70.5" x2="404.60" y2="102.0" stroke="#6a6f74" stroke-width="1.4"/>
<rect x="403.25" y="81.0" width="2.7" height="21.0" fill="#007b8a"/>
<line x1="409.60" y1="88.1" x2="409.60" y2="104.6" stroke="#6a6f74" stroke-width="1.4"/>
<rect x="408.25" y="88.1" width="2.7" height="12.0" fill="#b5121b"/>
<line x1="414.20" y1="103.5" x2="414.20" y2="120.3" stroke="#6a6f74" stroke-width="1.4"/>
<rect x="412.85" y="103.5" width="2.7" height="16.8" fill="#b5121b"/>
<line x1="418.30" y1="114.7" x2="418.30" y2="123.5" stroke="#6a6f74" stroke-width="1.4"/>
<rect x="416.95" y="114.7" width="2.7" height="8.8" fill="#b5121b"/>
<line x1="422.70" y1="114.9" x2="422.70" y2="160.8" stroke="#6a6f74" stroke-width="1.4"/>
<rect x="421.35" y="114.9" width="2.7" height="19.5" fill="#b5121b"/>
<line x1="428.00" y1="127.2" x2="428.00" y2="136.0" stroke="#6a6f74" stroke-width="1.4"/>
<rect x="426.65" y="131.6" width="2.7" height="4.4" fill="#b5121b"/>
<line x1="432.30" y1="128.8" x2="432.30" y2="144.1" stroke="#6a6f74" stroke-width="1.4"/>
<rect x="430.95" y="130.5" width="2.7" height="0.8" fill="#555a60"/>
<line x1="436.50" y1="133.2" x2="436.50" y2="149.4" stroke="#6a6f74" stroke-width="1.4"/>
<rect x="435.15" y="139.7" width="2.7" height="9.7" fill="#b5121b"/>
<line x1="440.90" y1="122.7" x2="440.90" y2="146.2" stroke="#6a6f74" stroke-width="1.4"/>
<rect x="439.55" y="125.6" width="2.7" height="20.6" fill="#007b8a"/>
<line x1="446.00" y1="117.0" x2="446.00" y2="129.5" stroke="#6a6f74" stroke-width="1.4"/>
<rect x="444.65" y="123.7" width="2.7" height="0.8" fill="#555a60"/>
<line x1="450.40" y1="121.1" x2="450.40" y2="143.4" stroke="#6a6f74" stroke-width="1.4"/>
<rect x="449.05" y="124.0" width="2.7" height="18.5" fill="#b5121b"/>
<line x1="454.80" y1="122.7" x2="454.80" y2="142.9" stroke="#6a6f74" stroke-width="1.4"/>
<rect x="453.45" y="142.2" width="2.7" height="0.8" fill="#555a60"/>
<line x1="459.80" y1="133.2" x2="459.80" y2="155.1" stroke="#6a6f74" stroke-width="1.4"/>
<rect x="458.45" y="133.2" width="2.7" height="10.2" fill="#b5121b"/>
<line x1="464.10" y1="143.4" x2="464.10" y2="159.6" stroke="#6a6f74" stroke-width="1.4"/>
<rect x="462.75" y="143.4" width="2.7" height="10.4" fill="#b5121b"/>
<line x1="468.40" y1="119.3" x2="468.40" y2="162.8" stroke="#6a6f74" stroke-width="1.4"/>
<rect x="467.05" y="125.7" width="2.7" height="19.3" fill="#007b8a"/>
<line x1="473.00" y1="125.7" x2="473.00" y2="147.7" stroke="#6a6f74" stroke-width="1.4"/>
<rect x="471.65" y="137.7" width="2.7" height="0.8" fill="#555a60"/>
<line x1="478.30" y1="71.7" x2="478.30" y2="125.3" stroke="#6a6f74" stroke-width="1.4"/>
<rect x="476.95" y="88.2" width="2.7" height="37.1" fill="#007b8a"/>
<line x1="482.50" y1="75.2" x2="482.50" y2="93.1" stroke="#6a6f74" stroke-width="1.4"/>
<rect x="481.15" y="89.7" width="2.7" height="3.4" fill="#007b8a"/>
<line x1="486.90" y1="89.7" x2="486.90" y2="104.7" stroke="#6a6f74" stroke-width="1.4"/>
<rect x="485.55" y="89.7" width="2.7" height="15.0" fill="#b5121b"/>
<line x1="491.10" y1="101.7" x2="491.10" y2="127.8" stroke="#6a6f74" stroke-width="1.4"/>
<rect x="489.75" y="101.7" width="2.7" height="18.0" fill="#b5121b"/>
<line x1="496.30" y1="103.6" x2="496.30" y2="123.2" stroke="#6a6f74" stroke-width="1.4"/>
<rect x="494.95" y="113.7" width="2.7" height="9.5" fill="#007b8a"/>
<line x1="500.60" y1="98.2" x2="500.60" y2="112.6" stroke="#6a6f74" stroke-width="1.4"/>
<rect x="499.25" y="103.6" width="2.7" height="9.0" fill="#007b8a"/>
<line x1="504.90" y1="101.8" x2="504.90" y2="122.0" stroke="#6a6f74" stroke-width="1.4"/>
<rect x="503.55" y="113.4" width="2.7" height="0.8" fill="#555a60"/>
<line x1="509.40" y1="117.0" x2="509.40" y2="134.5" stroke="#6a6f74" stroke-width="1.4"/>
<rect x="508.05" y="117.0" width="2.7" height="17.5" fill="#b5121b"/>
<line x1="514.20" y1="118.0" x2="514.20" y2="137.5" stroke="#6a6f74" stroke-width="1.4"/>
<rect x="512.85" y="127.2" width="2.7" height="10.3" fill="#007b8a"/>
<line x1="518.80" y1="117.2" x2="518.80" y2="138.6" stroke="#6a6f74" stroke-width="1.4"/>
<rect x="517.45" y="130.2" width="2.7" height="2.0" fill="#007b8a"/>
<line x1="523.20" y1="122.7" x2="523.20" y2="129.9" stroke="#6a6f74" stroke-width="1.4"/>
<rect x="521.85" y="122.7" width="2.7" height="7.2" fill="#007b8a"/>
<line x1="528.20" y1="123.9" x2="528.20" y2="137.6" stroke="#6a6f74" stroke-width="1.4"/>
<rect x="526.85" y="128.4" width="2.7" height="9.2" fill="#b5121b"/>
<line x1="532.60" y1="125.5" x2="532.60" y2="134.3" stroke="#6a6f74" stroke-width="1.4"/>
<rect x="531.25" y="131.4" width="2.7" height="2.9" fill="#b5121b"/>
<line x1="536.90" y1="125.9" x2="536.90" y2="139.9" stroke="#6a6f74" stroke-width="1.4"/>
<rect x="535.55" y="125.9" width="2.7" height="5.9" fill="#b5121b"/>
<line x1="541.30" y1="130.2" x2="541.30" y2="140.1" stroke="#6a6f74" stroke-width="1.4"/>
<rect x="539.95" y="130.7" width="2.7" height="0.8" fill="#555a60"/>
<line x1="546.30" y1="119.3" x2="546.30" y2="125.5" stroke="#6a6f74" stroke-width="1.4"/>
<rect x="544.95" y="123.9" width="2.7" height="1.6" fill="#007b8a"/>
<line x1="550.70" y1="118.1" x2="550.70" y2="127.7" stroke="#6a6f74" stroke-width="1.4"/>
<rect x="549.35" y="122.4" width="2.7" height="5.3" fill="#007b8a"/>
<line x1="555.20" y1="112.2" x2="555.20" y2="122.8" stroke="#6a6f74" stroke-width="1.4"/>
<rect x="553.85" y="115.0" width="2.7" height="7.8" fill="#007b8a"/>
<line x1="559.60" y1="101.8" x2="559.60" y2="116.7" stroke="#6a6f74" stroke-width="1.4"/>
<rect x="558.25" y="105.0" width="2.7" height="4.4" fill="#007b8a"/>
<line x1="564.40" y1="81.0" x2="564.40" y2="98.5" stroke="#6a6f74" stroke-width="1.4"/>
<rect x="563.05" y="81.0" width="2.7" height="15.1" fill="#007b8a"/>
<line x1="569.10" y1="8.2" x2="569.10" y2="83.8" stroke="#6a6f74" stroke-width="1.4"/>
<rect x="567.75" y="43.6" width="2.7" height="40.2" fill="#007b8a"/>
<line x1="573.30" y1="41.9" x2="573.30" y2="51.2" stroke="#6a6f74" stroke-width="1.4"/>
<rect x="571.95" y="45.3" width="2.7" height="4.7" fill="#b5121b"/>
<line x1="577.50" y1="50.9" x2="577.50" y2="82.8" stroke="#6a6f74" stroke-width="1.4"/>
<rect x="576.15" y="50.9" width="2.7" height="30.4" fill="#b5121b"/>
<line x1="582.70" y1="77.2" x2="582.70" y2="85.0" stroke="#6a6f74" stroke-width="1.4"/>
<rect x="581.35" y="77.2" width="2.7" height="2.0" fill="#b5121b"/>
<line x1="587.30" y1="75.2" x2="587.30" y2="87.5" stroke="#6a6f74" stroke-width="1.4"/>
<rect x="585.95" y="86.9" width="2.7" height="0.8" fill="#555a60"/>
<line x1="591.50" y1="66.3" x2="591.50" y2="86.8" stroke="#6a6f74" stroke-width="1.4"/>
<rect x="590.15" y="66.3" width="2.7" height="10.3" fill="#b5121b"/>
<line x1="595.80" y1="71.9" x2="595.80" y2="101.4" stroke="#6a6f74" stroke-width="1.4"/>
<rect x="594.45" y="71.9" width="2.7" height="28.3" fill="#b5121b"/>
<line x1="601.20" y1="81.9" x2="601.20" y2="91.5" stroke="#6a6f74" stroke-width="1.4"/>
<rect x="599.85" y="83.6" width="2.7" height="3.2" fill="#b5121b"/>
<line x1="605.40" y1="80.5" x2="605.40" y2="106.7" stroke="#6a6f74" stroke-width="1.4"/>
<rect x="604.05" y="80.5" width="2.7" height="26.2" fill="#b5121b"/>
<text x="624.9" y="27.6" font-family="Liberation Sans" font-size="6.6" fill="#3c3c3c" textLength="22.3" lengthAdjust="spacingAndGlyphs" text-anchor="start" >45.00</text>
<text x="624.9" y="57.3" font-family="Liberation Sans" font-size="6.6" fill="#3c3c3c" textLength="22.3" lengthAdjust="spacingAndGlyphs" text-anchor="start" >42.50</text>
<text x="624.9" y="87.1" font-family="Liberation Sans" font-size="6.6" fill="#3c3c3c" textLength="22.3" lengthAdjust="spacingAndGlyphs" text-anchor="start" >40.00</text>
<text x="624.9" y="116.9" font-family="Liberation Sans" font-size="6.6" fill="#3c3c3c" textLength="22.3" lengthAdjust="spacingAndGlyphs" text-anchor="start" >37.50</text>
<text x="624.9" y="146.7" font-family="Liberation Sans" font-size="6.6" fill="#3c3c3c" textLength="22.3" lengthAdjust="spacingAndGlyphs" text-anchor="start" >35.00</text>
<text x="624.9" y="176.4" font-family="Liberation Sans" font-size="6.6" fill="#3c3c3c" textLength="22.3" lengthAdjust="spacingAndGlyphs" text-anchor="start" >32.50</text>
<text x="624.9" y="206.2" font-family="Liberation Sans" font-size="6.6" fill="#3c3c3c" textLength="22.3" lengthAdjust="spacingAndGlyphs" text-anchor="start" >30.00</text>
<text x="624.9" y="236.0" font-family="Liberation Sans" font-size="6.6" fill="#3c3c3c" textLength="22.3" lengthAdjust="spacingAndGlyphs" text-anchor="start" >27.50</text>
<text x="624.9" y="265.8" font-family="Liberation Sans" font-size="6.6" fill="#3c3c3c" textLength="22.3" lengthAdjust="spacingAndGlyphs" text-anchor="start" >25.00</text>
<text x="624.9" y="295.5" font-family="Liberation Sans" font-size="6.6" fill="#3c3c3c" textLength="22.3" lengthAdjust="spacingAndGlyphs" text-anchor="start" >22.50</text>
<text x="624.9" y="325.3" font-family="Liberation Sans" font-size="6.6" fill="#3c3c3c" textLength="22.3" lengthAdjust="spacingAndGlyphs" text-anchor="start" >20.00</text>
<text x="28.9" y="358" font-family="Liberation Sans" font-size="7.8" fill="#444" textLength="10.9" lengthAdjust="spacingAndGlyphs" text-anchor="middle" stroke="#444" stroke-width="0.06">14</text>
<text x="83.6" y="358" font-family="Liberation Sans" font-size="7.8" fill="#444" textLength="17.6" lengthAdjust="spacingAndGlyphs" text-anchor="middle" stroke="#444" stroke-width="0.06">Jun</text>
<text x="126.6" y="358" font-family="Liberation Sans" font-size="7.8" fill="#444" textLength="10.9" lengthAdjust="spacingAndGlyphs" text-anchor="middle" stroke="#444" stroke-width="0.06">14</text>
<text x="183.9" y="358" font-family="Liberation Sans" font-size="7.8" fill="#444" textLength="14.3" lengthAdjust="spacingAndGlyphs" text-anchor="middle" stroke="#444" stroke-width="0.06">Jul</text>
<text x="227.4" y="358" font-family="Liberation Sans" font-size="7.8" fill="#444" textLength="10.9" lengthAdjust="spacingAndGlyphs" text-anchor="middle" stroke="#444" stroke-width="0.06">14</text>
<text x="279.9" y="358" font-family="Liberation Sans" font-size="7.8" fill="#444" textLength="19.0" lengthAdjust="spacingAndGlyphs" text-anchor="middle" stroke="#444" stroke-width="0.06">Aug</text>
<text x="323.4" y="358" font-family="Liberation Sans" font-size="7.8" fill="#444" textLength="10.9" lengthAdjust="spacingAndGlyphs" text-anchor="middle" stroke="#444" stroke-width="0.06">14</text>
<text x="379.6" y="358" font-family="Liberation Sans" font-size="7.8" fill="#444" textLength="19.1" lengthAdjust="spacingAndGlyphs" text-anchor="middle" stroke="#444" stroke-width="0.06">Sep</text>
<text x="422.9" y="358" font-family="Liberation Sans" font-size="7.8" fill="#444" textLength="10.9" lengthAdjust="spacingAndGlyphs" text-anchor="middle" stroke="#444" stroke-width="0.06">14</text>
<text x="475.6" y="358" font-family="Liberation Sans" font-size="7.8" fill="#444" textLength="16.8" lengthAdjust="spacingAndGlyphs" text-anchor="middle" stroke="#444" stroke-width="0.06">Oct</text>
<text x="521.5" y="358" font-family="Liberation Sans" font-size="7.8" fill="#444" textLength="10.9" lengthAdjust="spacingAndGlyphs" text-anchor="middle" stroke="#444" stroke-width="0.06">14</text>
<text x="575.8" y="358" font-family="Liberation Sans" font-size="7.8" fill="#444" textLength="19.4" lengthAdjust="spacingAndGlyphs" text-anchor="middle" stroke="#444" stroke-width="0.06">Nov</text>
<path d="M621,106.5 L626.5,101.6 L657,101.6 Q658.2,101.6 658.2,102.8 L658.2,110.2 Q658.2,111.4 657,111.4 L626.5,111.4 Z" fill="#5c5aa8"/>
<text x="632.3" y="109.3" font-family="Liberation Sans" font-size="6.0" fill="#fff" textLength="23.0" lengthAdjust="spacingAndGlyphs" text-anchor="start" font-weight="bold">38.13</text>
<rect x="4.5" y="321.2" width="203.5" height="19.3" fill="#fff" fill-opacity="0.8"/>
<text x="8.6" y="329.8" font-family="Liberation Sans" font-size="6.4" fill="#a3a3a3" textLength="32.2" lengthAdjust="spacingAndGlyphs" text-anchor="start" >TODAY:</text>
<text x="54.4" y="329.8" font-family="Liberation Sans" font-size="6.4" fill="#a3a3a3" textLength="8.7" lengthAdjust="spacingAndGlyphs" text-anchor="start" >H:</text>
<text x="65.8" y="329.8" font-family="Liberation Sans" font-size="6.4" fill="#333" textLength="23.8" lengthAdjust="spacingAndGlyphs" text-anchor="start" >40.25</text>
<text x="95.9" y="329.8" font-family="Liberation Sans" font-size="6.4" fill="#a3a3a3" textLength="8.7" lengthAdjust="spacingAndGlyphs" text-anchor="start" >L:</text>
<text x="106.5" y="329.8" font-family="Liberation Sans" font-size="6.4" fill="#333" textLength="22.6" lengthAdjust="spacingAndGlyphs" text-anchor="start" >38.12</text>
<text x="140.3" y="329.8" font-family="Liberation Sans" font-size="6.4" fill="#d24a4a" textLength="21.0" lengthAdjust="spacingAndGlyphs" text-anchor="start" >-1.38</text>
<text x="174.6" y="329.8" font-family="Liberation Sans" font-size="6.4" fill="#d24a4a" textLength="22.9" lengthAdjust="spacingAndGlyphs" text-anchor="start" >-3.5%</text>
<text x="8.6" y="336.9" font-family="Liberation Sans" font-size="6.4" fill="#a3a3a3" textLength="32.2" lengthAdjust="spacingAndGlyphs" text-anchor="start" >CHART:</text>
<text x="54.4" y="336.9" font-family="Liberation Sans" font-size="6.4" fill="#a3a3a3" textLength="8.7" lengthAdjust="spacingAndGlyphs" text-anchor="start" >H:</text>
<text x="65.8" y="336.9" font-family="Liberation Sans" font-size="6.4" fill="#333" textLength="23.8" lengthAdjust="spacingAndGlyphs" text-anchor="start" >46.38</text>
<text x="95.9" y="336.9" font-family="Liberation Sans" font-size="6.4" fill="#a3a3a3" textLength="8.7" lengthAdjust="spacingAndGlyphs" text-anchor="start" >L:</text>
<text x="106.5" y="336.9" font-family="Liberation Sans" font-size="6.4" fill="#333" textLength="22.6" lengthAdjust="spacingAndGlyphs" text-anchor="start" >18.63</text>
<text x="140.3" y="336.9" font-family="Liberation Sans" font-size="6.4" fill="#d24a4a" textLength="21.0" lengthAdjust="spacingAndGlyphs" text-anchor="start" >-3.76</text>
<text x="174.6" y="336.9" font-family="Liberation Sans" font-size="6.4" fill="#d24a4a" textLength="22.9" lengthAdjust="spacingAndGlyphs" text-anchor="start" >-9.0%</text>
<text x="323.5" y="385.6" font-family="Liberation Sans" font-size="17.6" textLength="41.8" lengthAdjust="spacingAndGlyphs" fill="#d5453a" stroke="#000" stroke-width="0.4">Days</text>
<text transform="translate(676.2,119.5) rotate(90)" x="0" y="0" font-family="Liberation Sans" font-size="18.4" letter-spacing="0.5" fill="#d5453a" stroke="#000" stroke-width="0.4">Price (in pence)</text>
</svg>
</body></html>
